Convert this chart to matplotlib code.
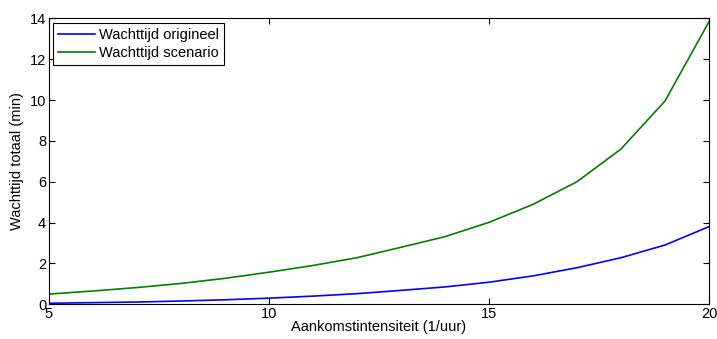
import matplotlib
matplotlib.use("Agg")
import matplotlib.pyplot as plt

x = [5, 6, 7, 8, 9, 10, 11, 12, 13, 14, 15, 16, 17, 18, 19, 20]
origineel = [0.05, 0.08, 0.11, 0.16, 0.22, 0.30, 0.40, 0.52, 0.68, 0.85, 1.08, 1.39, 1.79, 2.28, 2.90, 3.80]
scenario = [0.50, 0.65, 0.82, 1.02, 1.27, 1.57, 1.90, 2.28, 2.79, 3.31, 4.01, 4.89, 6.00, 7.60, 9.95, 13.83]

plt.rcParams['font.family'] = ['Liberation Sans', 'DejaVu Sans']
fig = plt.figure(figsize=(7.17, 3.39), dpi=100)
ax = fig.add_axes([0.0683, 0.1024, 0.9205, 0.8436])
ax.plot(x, origineel, color=(0, 0, 1), lw=1.2, label='Wachttijd origineel')
ax.plot(x, scenario, color=(0, 0.5, 0), lw=1.2, label='Wachttijd scenario')
ax.set_xlim(5, 20)
ax.set_ylim(0, 14)
ax.set_xticks([5, 10, 15, 20])
ax.set_yticks([0, 2, 4, 6, 8, 10, 12, 14])
ax.tick_params(direction='in', top=True, right=True, labelsize=10.5, pad=2, length=4)
ax.set_xlabel('Aankomstintensiteit (1/uur)', fontsize=10.5, labelpad=-1)
ax.set_ylabel('Wachttijd totaal (min)', fontsize=10.5, labelpad=4)
leg = ax.legend(loc='upper left', fontsize=10.5, fancybox=False, edgecolor='black',
                framealpha=1, borderaxespad=0.3, handlelength=2.5, handletextpad=0.3,
                labelspacing=0.3, borderpad=0.35)
leg.get_frame().set_linewidth(0.8)
fig.savefig('out.png', dpi=100)
